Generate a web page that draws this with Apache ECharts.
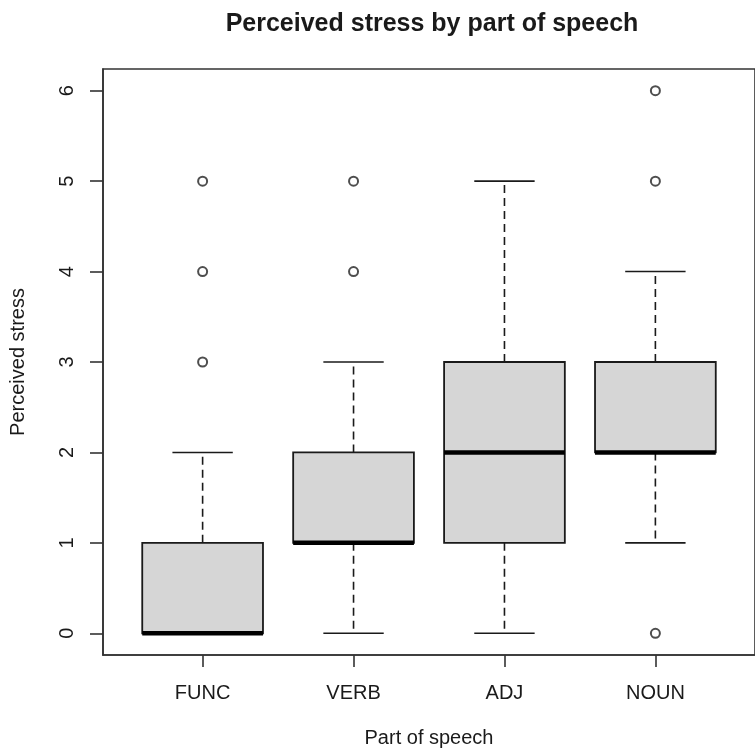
<!DOCTYPE html>
<html>
<head>
<meta charset="utf-8">
<script src="https://cdn.jsdelivr.net/npm/echarts@6/dist/echarts.min.js"></script>
<style>
  html, body { margin: 0; padding: 0; background: #fff; }
  #chart { width: 755px; height: 753px; }
</style>
</head>
<body>
<div id="chart"></div>
<script>
// Five-number summaries per part of speech (whisker ends, quartiles, median)
const categories = ['FUNC', 'VERB', 'ADJ', 'NOUN'];
const lowerWhisker = [0, 0, 0, 1];
const q1 = [0, 1, 1, 2];
const median = [0, 1, 2, 2];
const q3 = [1, 2, 3, 3];
const upperWhisker = [2, 3, 5, 4];
// Points beyond the whiskers, per category
const outliersFUNC = [3, 4, 5];
const outliersVERB = [4, 5];
const outliersADJ = [];
const outliersNOUN = [0, 5, 6];
const yTicks = [0, 1, 2, 3, 4, 5, 6];

const outlierGroups = [outliersFUNC, outliersVERB, outliersADJ, outliersNOUN];
const boxData = categories.map((c, i) =>
  [i + 1, lowerWhisker[i], q1[i], median[i], q3[i], upperWhisker[i]]);
const outlierData = [];
outlierGroups.forEach((g, i) => g.forEach(v => outlierData.push([i + 1, v])));

const FONT = '"Liberation Sans", Arial, sans-serif';
const INK = '#1a1a1a';
const BOX_HALF = 0.4;     // half box width in category units
const STAPLE_HALF = 0.2;  // half whisker-cap width

function renderBox(params, api) {
  const x = api.value(0);
  const lo = api.value(1), b1 = api.value(2), md = api.value(3), b3 = api.value(4), hi = api.value(5);
  const pL = api.coord([x - BOX_HALF, b3]);
  const pR = api.coord([x + BOX_HALF, b1]);
  const cTop = api.coord([x, hi]);
  const cQ3 = api.coord([x, b3]);
  const cQ1 = api.coord([x, b1]);
  const cLo = api.coord([x, lo]);
  const sL = api.coord([x - STAPLE_HALF, 0])[0];
  const sR = api.coord([x + STAPLE_HALF, 0])[0];
  const mL = api.coord([x - BOX_HALF, md]);
  const mR = api.coord([x + BOX_HALF, md]);
  const dash = { stroke: INK, lineWidth: 1.6, lineDash: [8, 5] };
  const solid = { stroke: INK, lineWidth: 1.6 };
  return {
    type: 'group',
    children: [
      { type: 'line', shape: { x1: cQ3[0], y1: cQ3[1], x2: cTop[0], y2: cTop[1] }, style: dash },
      { type: 'line', shape: { x1: cQ1[0], y1: cQ1[1], x2: cLo[0], y2: cLo[1] }, style: dash },
      { type: 'line', shape: { x1: sL, y1: cTop[1], x2: sR, y2: cTop[1] }, style: solid },
      { type: 'line', shape: { x1: sL, y1: cLo[1], x2: sR, y2: cLo[1] }, style: solid },
      { type: 'rect', shape: { x: pL[0], y: pL[1], width: pR[0] - pL[0], height: pR[1] - pL[1] },
        style: { fill: '#d6d6d6', stroke: INK, lineWidth: 1.8 } },
      { type: 'line', shape: { x1: mL[0], y1: mL[1], x2: mR[0], y2: mR[1] },
        style: { stroke: '#000', lineWidth: 4.5 } }
    ]
  };
}

const chart = echarts.init(document.getElementById('chart'), null, { renderer: 'canvas' });
chart.setOption({
  animation: false,
  backgroundColor: '#fff',
  textStyle: { fontFamily: FONT },
  graphic: [{
    type: 'text', x: 432, y: 24,
    style: { text: 'Perceived stress by part of speech', font: 'bold 25px ' + FONT,
             fill: INK, textAlign: 'center', textVerticalAlign: 'middle' }
  }],
  grid: { left: 102, top: 69, right: -8, bottom: 98, show: true,
          borderColor: '#333', borderWidth: 1.6, backgroundColor: 'transparent' },
  xAxis: {
    type: 'value', min: 0.34, max: 4.66,
    name: 'Part of speech', nameLocation: 'middle', nameGap: 73,
    nameTextStyle: { fontSize: 20, color: INK, fontFamily: FONT },
    axisLine: { show: true, onZero: false, lineStyle: { color: '#333', width: 1.6 } },
    axisTick: { show: true, length: 12, customValues: [1, 2, 3, 4], lineStyle: { color: '#333', width: 1.6 } },
    axisLabel: { customValues: [1, 2, 3, 4], margin: 28, fontSize: 20, color: INK, fontFamily: FONT,
                 formatter: v => categories[Math.round(v) - 1] },
    splitLine: { show: false }
  },
  yAxis: {
    type: 'value', min: -0.24, max: 6.24,
    name: 'Perceived stress', nameLocation: 'middle', nameGap: 75,
    nameTextStyle: { fontSize: 20, color: INK, fontFamily: FONT },
    axisLine: { show: true, onZero: false, lineStyle: { color: '#333', width: 1.6 } },
    axisTick: { show: true, length: 13, customValues: yTicks, lineStyle: { color: '#333', width: 1.6 } },
    axisLabel: { customValues: yTicks, rotate: 90, margin: 26, fontSize: 20, color: INK, fontFamily: FONT },
    splitLine: { show: false }
  },
  series: [
    { type: 'custom', renderItem: renderBox, data: boxData, encode: { x: 0, y: [1, 2, 3, 4, 5] }, z: 2 },
    { type: 'scatter', data: outlierData, symbol: 'circle', symbolSize: 9, z: 3,
      itemStyle: { color: '#fff', borderColor: '#222', borderWidth: 2 } }
  ]
});
</script>
</body>
</html>
